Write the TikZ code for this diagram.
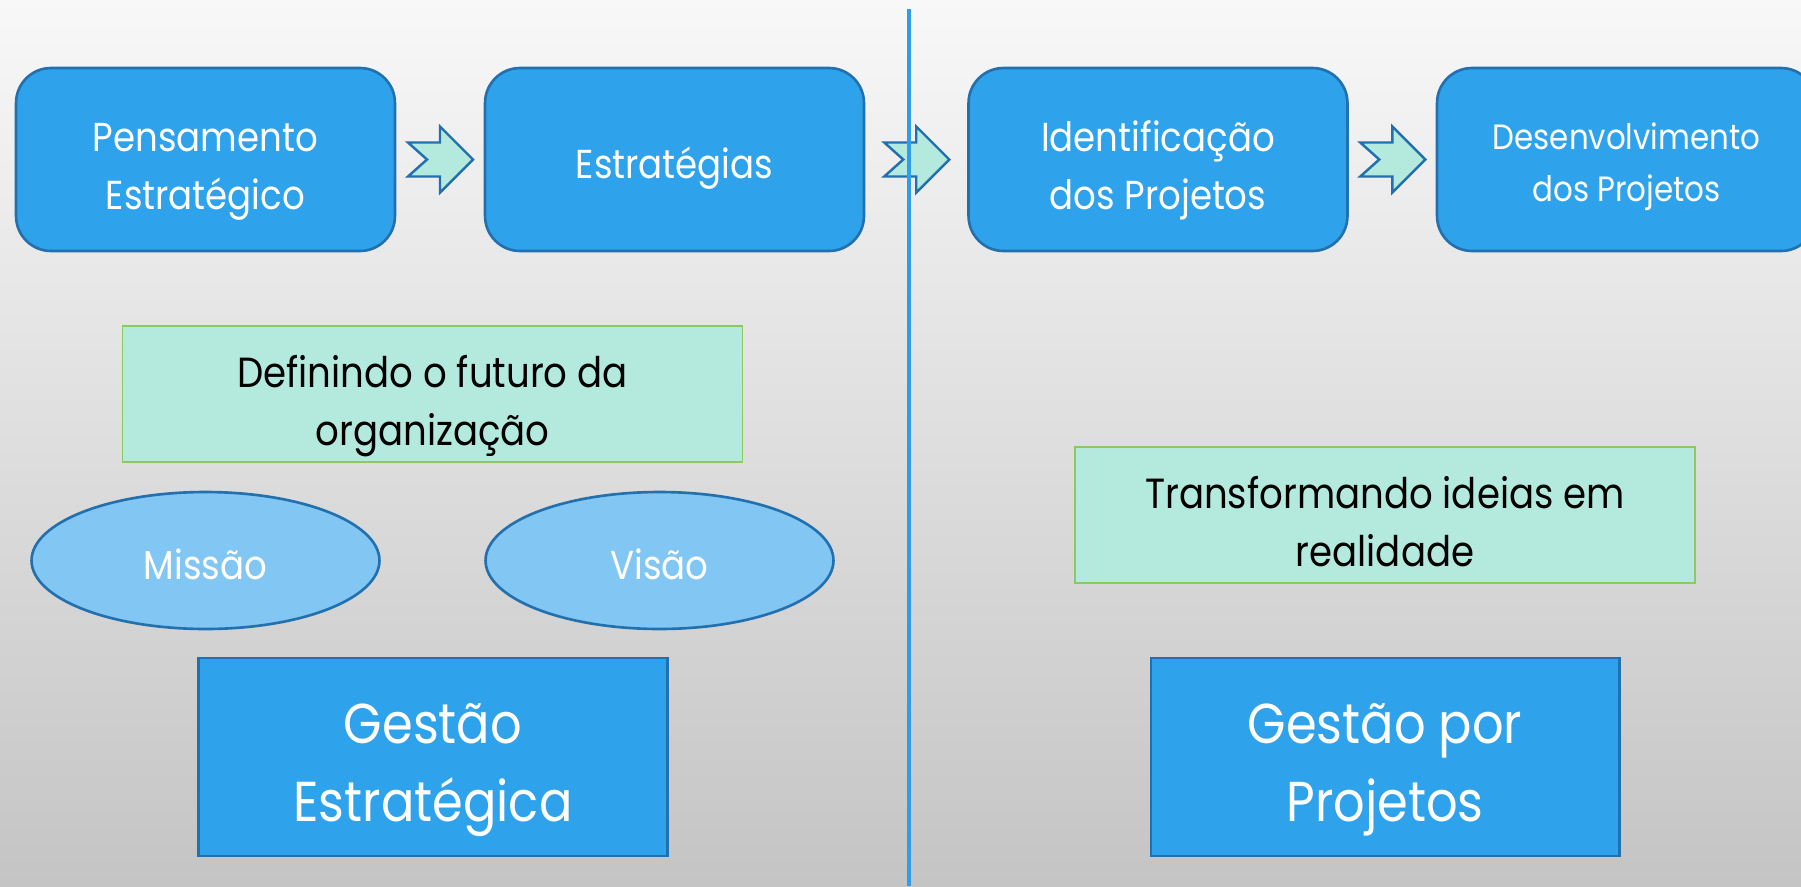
\documentclass[tikz,border=0pt]{standalone}
\usepackage{fontspec}
\setmainfont[FakeStretch=0.88]{Poppins}
\usetikzlibrary{shapes.geometric,calc}

\definecolor{boxblue}{HTML}{2FA2EC}
\definecolor{edgeblue}{HTML}{2270AE}
\definecolor{mint}{HTML}{B4EADE}
\definecolor{leafgreen}{HTML}{8CC863}
\definecolor{ovalblue}{HTML}{82C7F3}
\definecolor{lineblue}{HTML}{2E9EEA}
\definecolor{bgtop}{HTML}{F8F8F8}
\definecolor{bgbot}{HTML}{C4C4C4}

\tikzset{
  stepbox/.style={draw=edgeblue, fill=boxblue, line width=1.5pt,
    rounded corners=0.7cm, text=white, align=center,
    minimum width=7.58cm, minimum height=3.66cm,
    text depth=0pt, text height=56.5pt,
    font=\fontsize{23}{33}\selectfont},
  notebox/.style={draw=leafgreen, fill=mint, line width=1pt,
    align=center, minimum width=12.4cm, minimum height=2.72cm,
    text depth=0pt, text height=59pt,
    font=\fontsize{24}{33}\selectfont},
  oval/.style={ellipse, draw=edgeblue, fill=ovalblue, line width=1.5pt,
    text=white, inner sep=0pt, minimum width=6.96cm, minimum height=2.74cm,
    text depth=0pt, text height=22pt,
    font=\fontsize{23}{33}\selectfont},
  mainbox/.style={draw=edgeblue, fill=boxblue, line width=1.2pt,
    text=white, align=center, minimum width=9.38cm, minimum height=3.96cm,
    text depth=0pt, text height=73pt,
    font=\fontsize{32}{44}\selectfont},
  chevron/.style={draw=edgeblue, fill=mint, line width=1.4pt, line join=miter},
  divider/.style={draw=lineblue, line width=2.2pt}
}

\begin{document}
\begin{tikzpicture}[x=0.02cm, y=-0.02cm]
  \useasboundingbox (0,0) rectangle (1801,886);
  \clip (0,0) rectangle (1801,886);
  \shade[top color=bgtop, bottom color=bgbot] (0,0) rectangle (1801,886);

  % top row
  \node[stepbox] (pens) at (205.5,159.5) {Pensamento\\Estratégico};
  \node[stepbox, text height=22pt] (estr) at (674.5,159.5) {Estratégias};
  \node[stepbox] (ident) at (1158,159.5) {Identificação\\dos Projetos};
  \node[stepbox, text height=48pt, font=\fontsize{20}{29.5}\selectfont] (desenv) at (1626.5,159.5) {Desenvolvimento\\dos Projetos};

  \foreach \a/\b in {pens/estr, estr/ident, ident/desenv}
    \draw[chevron] ($(\a.east)!0.5!(\b.west)$) ++(-32,-17) -- ++(32,0) -- ++(0,-16)
      -- ++(33,33) -- ++(-33,33) -- ++(0,-16) -- ++(-32,0) -- ++(19,-17) -- cycle;

  \coordinate (divtop) at (909,9);
  \coordinate (divbot) at (909,886);
  \draw[divider] (divtop) -- (divbot);

  % left side
  \node[notebox] (futuro) at (432.5,394) {Definindo o futuro da\\organização};
  \node[oval] (missao) at (205.5,560.5) {Missão};
  \node[oval] (visao) at (659.5,560.5) {Visão};
  \node[mainbox] (gestrat) at (433,757) {Gestão\\Estratégica};

  % right side
  \node[notebox] (ideias) at (1385,515) {Transformando ideias em\\realidade};
  \node[mainbox] (gproj) at (1385,757) {Gestão por\\Projetos};
\end{tikzpicture}
\end{document}
